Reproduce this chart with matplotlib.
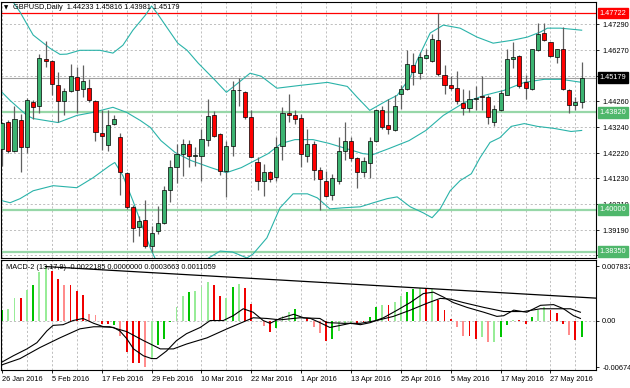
import numpy as np
import matplotlib.pyplot as plt

plt.rcParams['font.family'] = ['Liberation Sans', 'DejaVu Sans']

# ---- data ----
date_labels = ['26 Jan 2016', '5 Feb 2016', '17 Feb 2016', '29 Feb 2016', '10 Mar 2016',
               '22 Mar 2016', '1 Apr 2016', '13 Apr 2016', '25 Apr 2016', '5 May 2016',
               '17 May 2016', '27 May 2016']

opens = [1.4239, 1.4346, 1.4232, 1.4353, 1.4245, 1.4423, 1.4406, 1.4591, 1.4583, 1.4491,
         1.4425, 1.4465, 1.4520, 1.4474, 1.4478, 1.4425, 1.4300, 1.4252, 1.4336, 1.4285,
         1.4144, 1.4012, 1.3930, 1.3960, 1.3857, 1.3914, 1.3949, 1.4077, 1.4166, 1.4219,
         1.4258, 1.4212, 1.4212, 1.4274, 1.4373, 1.4298, 1.4150, 1.4248, 1.4469, 1.4462,
         1.4363, 1.4189, 1.4114, 1.4149, 1.4127, 1.4249, 1.4379, 1.4373, 1.4360, 1.4212,
         1.4258, 1.4156, 1.4114, 1.4057, 1.4114, 1.4232, 1.4268, 1.4202, 1.4149, 1.4183,
         1.4269, 1.4390, 1.4331, 1.4311, 1.4456, 1.4475, 1.4570, 1.4538, 1.4594, 1.4584,
         1.4666, 1.4528, 1.4488, 1.4479, 1.4419, 1.4400, 1.4435, 1.4446, 1.4442, 1.4344,
         1.4390, 1.4449, 1.4590, 1.4603, 1.4502, 1.4475, 1.4626, 1.4695, 1.4657, 1.4600,
         1.4633, 1.4471, 1.4410, 1.44233]
highs = [1.4345, 1.4352, 1.4406, 1.4377, 1.4438, 1.4429, 1.4613, 1.4663, 1.4587, 1.4541,
         1.4479, 1.4574, 1.4561, 1.4570, 1.4512, 1.4429, 1.4390, 1.4390, 1.4370, 1.4302,
         1.4149, 1.4019, 1.3976, 1.4039, 1.3936, 1.4015, 1.4094, 1.4195, 1.4258, 1.4278,
         1.4274, 1.4245, 1.4317, 1.4433, 1.4386, 1.4300, 1.4271, 1.4504, 1.4517, 1.4465,
         1.4392, 1.4206, 1.4179, 1.4151, 1.4285, 1.4403, 1.4456, 1.4390, 1.4377, 1.4317,
         1.4271, 1.4166, 1.4153, 1.4140, 1.4285, 1.4344, 1.4285, 1.4206, 1.4206, 1.4287,
         1.4396, 1.4406, 1.4436, 1.4449, 1.4488, 1.4629, 1.4617, 1.4620, 1.4633, 1.4692,
         1.4772, 1.4567, 1.4524, 1.4544, 1.4475, 1.4471, 1.4484, 1.4524, 1.4449, 1.4410,
         1.4469, 1.4630, 1.4659, 1.4607, 1.4528, 1.4633, 1.4732, 1.4734, 1.4659, 1.4633,
         1.4719, 1.4473, 1.4442, 1.45816]
lows = [1.4170, 1.4222, 1.4228, 1.4147, 1.4221, 1.4357, 1.4379, 1.4561, 1.4449, 1.4344,
        1.4370, 1.4462, 1.4379, 1.4442, 1.4423, 1.4271, 1.4235, 1.4232, 1.4331, 1.4058,
        1.4002, 1.3874, 1.3897, 1.3851, 1.3835, 1.3903, 1.3945, 1.4028, 1.4103, 1.4133,
        1.4166, 1.4173, 1.4114, 1.4249, 1.4285, 1.4137, 1.4048, 1.4212, 1.4406, 1.4357,
        1.4206, 1.4077, 1.4054, 1.4107, 1.4114, 1.4193, 1.4344, 1.4337, 1.4169, 1.4186,
        1.4116, 1.3998, 1.4048, 1.4037, 1.4100, 1.4195, 1.4190, 1.4085, 1.4127, 1.4124,
        1.4265, 1.4317, 1.4298, 1.4308, 1.4396, 1.4471, 1.4488, 1.4515, 1.4590, 1.4580,
        1.4525, 1.4456, 1.4470, 1.4416, 1.4370, 1.4383, 1.4390, 1.4390, 1.4337, 1.4327,
        1.4386, 1.4449, 1.4557, 1.4479, 1.4436, 1.4469, 1.4624, 1.4663, 1.4600, 1.4577,
        1.4469, 1.4379, 1.4390, 1.43981]
closes = [1.4340, 1.4229, 1.4356, 1.4245, 1.4429, 1.4403, 1.4594, 1.4583, 1.4495, 1.4425,
          1.4465, 1.4524, 1.4471, 1.4504, 1.4429, 1.4304, 1.4290, 1.4333, 1.4357, 1.4147,
          1.4012, 1.3926, 1.3956, 1.3857, 1.3910, 1.3949, 1.4077, 1.4169, 1.4219, 1.4258,
          1.4212, 1.4215, 1.4278, 1.4367, 1.4291, 1.4150, 1.4248, 1.4469, 1.4471, 1.4363,
          1.4208, 1.4114, 1.4149, 1.4120, 1.4245, 1.4379, 1.4373, 1.4357, 1.4219, 1.4256,
          1.4156, 1.4120, 1.4054, 1.4123, 1.4232, 1.4269, 1.4202, 1.4147, 1.4190, 1.4271,
          1.4392, 1.4324, 1.4316, 1.4406, 1.4475, 1.4574, 1.4541, 1.4600, 1.4607, 1.4669,
          1.4532, 1.4488, 1.4479, 1.4425, 1.4400, 1.4436, 1.4440, 1.4443, 1.4363, 1.4396,
          1.4459, 1.4590, 1.4600, 1.4486, 1.4479, 1.4630, 1.4692, 1.4666, 1.4604, 1.4633,
          1.4475, 1.4410, 1.4423, 1.45179]

# Bollinger bands (bar position, price)
bb_up_x = [0, 2.9, 5, 7.7, 9.3, 10.4, 12.5, 15.7, 17.8, 19.4, 21, 23, 24, 25, 26.2, 28.2,
           29.7, 31.5, 34.2, 36, 37.4, 39.8, 41.6, 44.1, 47.8, 52.2, 55.4, 57, 59, 61.8,
           63.4, 65.5, 66.6, 68.7, 70.8, 73.5, 76.2, 78.8, 82, 84.3, 86.4, 87.5, 89.6, 93]
bb_up = [1.4880, 1.4776, 1.4686, 1.4634, 1.4610, 1.4611, 1.4626, 1.4626, 1.4615, 1.4646,
         1.4705, 1.4764, 1.4800, 1.4768, 1.4725, 1.4654, 1.4626, 1.4575, 1.4508, 1.4461,
         1.4488, 1.4536, 1.4524, 1.4477, 1.4488, 1.4500, 1.4484, 1.4441, 1.4390, 1.4429,
         1.4449, 1.4520, 1.4587, 1.4694, 1.4725, 1.4713, 1.4678, 1.4654, 1.4666, 1.4678,
         1.4698, 1.4713, 1.4713, 1.4705]
bb_mid_x = [0, 1.3, 4, 5, 9, 12, 14.6, 17.8, 20, 22.2, 23.8, 25.5, 27.8, 30.3, 33.5, 36,
            38.4, 40.6, 42.7, 44.8, 47, 49.9, 52.5, 55.2, 57.9, 59.5, 62.1, 65.3, 68, 70.8,
            74.2, 77.4, 80.6, 83.8, 87, 89.7, 93]
bb_mid = [1.4461, 1.4429, 1.4370, 1.4358, 1.4342, 1.4370, 1.4382, 1.4402, 1.4382, 1.4350,
          1.4323, 1.4271, 1.4224, 1.4193, 1.4165, 1.4145, 1.4165, 1.4193, 1.4220, 1.4260,
          1.4275, 1.4275, 1.4260, 1.4240, 1.4220, 1.4216, 1.4240, 1.4271, 1.4311, 1.4370,
          1.4421, 1.4449, 1.4469, 1.4500, 1.4512, 1.4512, 1.4500]
bb_lo_x = [0, 1.3, 2.9, 5, 8.2, 12, 14.6, 17.3, 18.1, 19.4, 21, 22.6, 23.8, 24.6, 27, 31.8,
           35, 37, 39.3, 40.3, 42.5, 44.6, 46.7, 49, 50.6, 52.6, 54.7, 57.5, 59.6, 61.8,
           63.4, 65.5, 67.6, 69, 70.3, 71.9, 73.5, 75.3, 76.7, 78.3, 79.9, 81.7, 83.8, 85.9,
           88.6, 91.3, 93]
bb_lo = [1.4035, 1.4027, 1.4043, 1.4074, 1.4094, 1.4086, 1.4125, 1.4173, 1.4185, 1.4133,
         1.4035, 1.3928, 1.3849, 1.3806, 1.3759, 1.3790, 1.3837, 1.3833, 1.3810, 1.3826,
         1.3889, 1.4007, 1.4062, 1.4062, 1.4046, 1.4003, 1.4007, 1.4011, 1.4027, 1.4043,
         1.4050, 1.4011, 1.3987, 1.3968, 1.4003, 1.4074, 1.4114, 1.4141, 1.4204, 1.4264,
         1.4283, 1.4327, 1.4338, 1.4327, 1.4319, 1.4307, 1.4311]

# horizontal levels
level_red = 1.47722
levels_green = [1.43820, 1.40000, 1.38350]
last_price = 1.45179
price_ticks = [1.47290, 1.46270, 1.45250, 1.44260, 1.43240, 1.42220, 1.41230, 1.40210,
               1.39190, 1.38200]
price_tick_labels = ['1.47290', '1.46270', '', '1.44260', '1.43240', '1.42220', '1.41230',
                     '1.40210', '1.39190', '1.38200']

# MACD-2 (13,17,9)
hist = [0.00146, 0.0017, 0.0032, 0.0032, 0.0044, 0.0051, 0.0070, 0.0078, 0.0071, 0.0060,
        0.0052, 0.0051, 0.0042, 0.0037, 0.0010, 0.0008, -0.0005, -0.0005, -0.0007, -0.0022,
        -0.0046, -0.0061, -0.0062, -0.0067, -0.0056, -0.0035, -0.0027, -0.0002, 0.0019, 0.0035,
        0.0041, 0.0042, 0.0049, 0.0056, 0.0052, 0.0036, 0.0033, 0.0049, 0.0053, 0.0047,
        0.0024, -0.0001, -0.0008, -0.0017, -0.0011, 0.0006, 0.0012, 0.0016, -0.0001, 0.0003,
        -0.0010, -0.0018, -0.0029, -0.0027, -0.0015, -0.0007, -0.0005, -0.0005, -0.0002, 0.0005,
        0.0019, 0.0022, 0.0022, 0.0027, 0.0036, 0.0041, 0.0046, 0.0047, 0.0046, 0.0046,
        0.0029, 0.0015, 0.0002, -0.0010, -0.0022, -0.0022, -0.0026, -0.0024, -0.0031, -0.0031,
        -0.0024, -0.0007, 0.0001, 0.0001, -0.0005, 0.0005, 0.0015, 0.0019, 0.0015, 0.0011,
        -0.0005, -0.0021, -0.0028, -0.0024]
hist_col = list('GLLRLGLLRRPRRRPPRRGPRRRPLGGGLLGLLLRRLGLRRRPRGLLGPR'
                'PPRGLLLRRGGLRLLGGLRLRRRPPRRLPLGGLRRGLLRRRPRG')
macd_fast_x = [0, 1.8, 4, 5.6, 7.2, 8.2, 9.8, 11.4, 13, 14.7, 16.3, 17.9, 18.9, 20, 21.1,
               22.7, 24, 24.8, 26.4, 28, 29.6, 31.8, 33.4, 35.5, 37.1, 38.7, 40.3, 41.9, 43,
               44.6, 46.8, 48.4, 49.5, 51, 52.6, 54.3, 55.9, 57.5, 59.1, 61.2, 63.4, 65.5,
               67.6, 69.2, 70.8, 72.4, 74.6, 77.3, 79.4, 80.5, 82.1, 84.2, 86.4, 88.5, 90.1,
               91.7, 92.8]
macd_fast = [-0.0060, -0.0051, -0.0041, -0.0032, -0.0015, -0.0007, -0.0006, 0.0000, 0.0003,
             -0.0004, -0.0009, -0.0010, -0.0015, -0.0026, -0.0041, -0.0051, -0.0055, -0.0055,
             -0.0044, -0.0029, -0.0019, -0.0010, 0.0000, 0.0000, 0.0007, 0.0017, 0.0012,
             0.0000, -0.0004, 0.0003, 0.0009, 0.0004, 0.0003, -0.0003, -0.0010, -0.0007,
             -0.0004, -0.0006, -0.0003, 0.0004, 0.0015, 0.0026, 0.0039, 0.0041, 0.0034,
             0.0026, 0.0019, 0.0012, 0.0006, 0.0007, 0.0015, 0.0012, 0.0022, 0.0023, 0.0017,
             0.0007, 0.0003]
macd_slow_x = [0, 2.9, 6.1, 9.3, 12.5, 14.7, 17.3, 20, 22.7, 25.4, 27.5, 29.6, 32.9, 36.1,
               38.2, 40.3, 42.5, 44.6, 47.8, 51, 52.1, 54.8, 57.5, 60.1, 62.8, 65.5, 68.2,
               70.3, 71.9, 74, 77.3, 80.5, 83.7, 86.4, 89, 91.2, 92.8]
macd_slow = [-0.0064, -0.0055, -0.0039, -0.0025, -0.0012, -0.0009, -0.0009, -0.0016, -0.0029,
             -0.0041, -0.0041, -0.0034, -0.0025, -0.0012, -0.0004, 0.0004, 0.0003, 0.0001,
             0.0004, 0.0003, -0.0003, -0.0004, -0.0004, 0.0000, 0.0006, 0.0015, 0.0025,
             0.0032, 0.0031, 0.0026, 0.0019, 0.0013, 0.0013, 0.0017, 0.0017, 0.0017, 0.0012]
trend_bars = [7, 67]
macd_title = 'MACD-2 (13,17,9) -0.0022185 0.0000000 0.0003663 0.0011059'
chart_title = 'GBPUSD,Daily  1.44233 1.45816 1.43981 1.45179'

# ---- figure ----
W, H = 630, 388
fig = plt.figure(figsize=(W / 100, H / 100), dpi=100)
fig.patch.set_facecolor('white')


def box(top, bottom, left=1, right=596):
    return [left / W, (H - bottom) / H, (right - left) / W, (bottom - top) / H]


ax = fig.add_axes(box(2, 258))
am = fig.add_axes(box(260, 370))

n = len(opens)
idx = np.arange(n)
o = np.array(opens); c = np.array(closes)
hi = np.array(highs); lo = np.array(lows)
xmin, xmax = -0.16, 95.3
fs = 5.3
grid_kw = dict(color='#b4b4b4', lw=0.6, ls=(0, (2.5, 2.5)), zorder=0)

# main panel
ax.set_xlim(xmin, xmax)
ax.set_ylim(1.38098, 1.48158)
for k in range(0, n + 2, 4):
    ax.axvline(k, **grid_kw)
for p in price_ticks:
    ax.axhline(p, **grid_kw)
ax.axhline(last_price, color='#a0a0a0', lw=0.8, zorder=1)
ax.axhline(level_red, color='red', lw=0.9, zorder=1)
for p in levels_green:
    ax.axhline(p, color='#97d7a8', lw=1.6, zorder=1)

ax.plot(bb_up_x, bb_up, color='#2ab3a9', lw=0.8, zorder=2)
ax.plot(bb_mid_x, bb_mid, color='#2ab3a9', lw=0.8, zorder=2)
ax.plot(bb_lo_x, bb_lo, color='#2ab3a9', lw=0.8, zorder=2)

up = c >= o
ax.vlines(idx, lo, hi, color='#606060', lw=0.9, zorder=3)
body_lo = np.minimum(o, c)
body_h = np.abs(c - o)
ax.bar(idx[up], body_h[up], bottom=body_lo[up], width=0.66, color='#3cb371',
       edgecolor='black', lw=0.5, zorder=4)
ax.bar(idx[~up], body_h[~up], bottom=body_lo[~up], width=0.66, color='#ff0000',
       edgecolor='black', lw=0.5, zorder=4)

ax.yaxis.tick_right()
ax.set_yticks(price_ticks)
ax.set_yticklabels(price_tick_labels)
ax.tick_params(axis='y', length=2.5, width=0.6, labelsize=fs, pad=2)
ax.set_xticks([])
for s in ax.spines.values():
    s.set_linewidth(0.8)

tr = ax.get_yaxis_transform()
lab_kw = dict(transform=tr, fontsize=fs, va='center', ha='left', color='white', zorder=10,
              clip_on=False)
ax.text(1.006, level_red, '%.5f' % level_red,
        bbox=dict(boxstyle='square,pad=0.25', fc='red', ec='red'), **lab_kw)
ax.text(1.006, last_price, '%.5f' % last_price,
        bbox=dict(boxstyle='square,pad=0.25', fc='black', ec='black'), **lab_kw)
for p in levels_green:
    ax.text(1.006, p, '%.5f' % p,
            bbox=dict(boxstyle='square,pad=0.25', fc='#4fb76b', ec='#4fb76b'), **lab_kw)

fig.text(4 / W, 1 - 7.5 / H, '\u25bc', fontsize=4, va='center', ha='left',
         family='DejaVu Sans')
fig.text(13 / W, 1 - 7.5 / H, chart_title, fontsize=fs, va='center', ha='left')

# MACD panel
am.set_xlim(xmin, xmax)
am.set_ylim(-0.00715, 0.00875)
for k in range(0, n + 2, 4):
    am.axvline(k, **grid_kw)
am.axhline(0, **grid_kw)
col_map = {'G': '#00c400', 'L': '#98ec98', 'R': '#f00000', 'P': '#ff8c8c'}
am.bar(idx, hist, width=0.3, color=[col_map[k] for k in hist_col], zorder=2)
am.plot(macd_fast_x, macd_fast, color='black', lw=0.8, zorder=3)
am.plot(macd_slow_x, macd_slow, color='black', lw=0.8, zorder=3)
t0, t1 = trend_bars
slope = (hist[t1] - hist[t0]) / (t1 - t0)
am.plot([t0, xmax], [hist[t0], hist[t0] + slope * (xmax - t0)], color='black', lw=0.9,
        zorder=3)
am.text(0.008, 0.93, macd_title, transform=am.transAxes, fontsize=fs, va='center', ha='left')

am.yaxis.tick_right()
am.set_yticks([0.007837, 0.0, -0.006744])
am.set_yticklabels(['0.007837', '0.00', '-0.006744'])
am.tick_params(axis='y', length=2.5, width=0.6, labelsize=fs, pad=2)
am.set_xticks(idx[::8])
am.set_xticklabels(date_labels, ha='left')
am.tick_params(axis='x', length=2.5, width=0.6, labelsize=fs, pad=2)
for s in am.spines.values():
    s.set_linewidth(0.8)

fig.savefig('out.png', dpi=100, facecolor='white')
